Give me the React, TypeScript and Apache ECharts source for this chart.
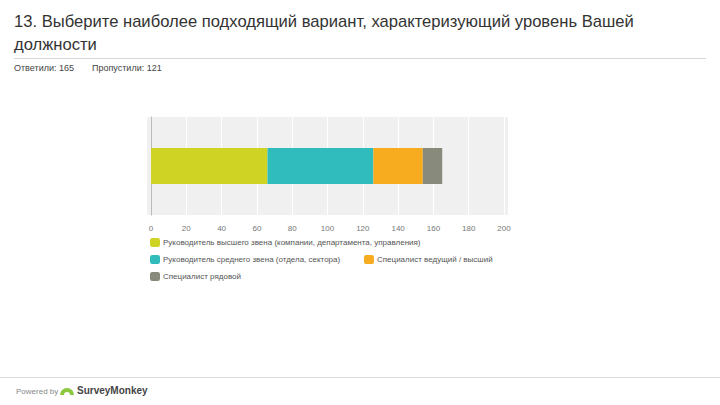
import React, { useEffect, useRef } from "react";
import * as echarts from "echarts";

const categories = ["Q13"];
const seriesNames = [
  "Руководитель высшего звена (компании, департамента, управления)",
  "Руководитель среднего звена (отдела, сектора)",
  "Специалист ведущий / высший",
  "Специалист рядовой",
];
const seriesValues = [66, 60, 28, 11];
const seriesColors = ["#cfd324", "#30bcbc", "#f7ab1f", "#888a7c"];
const xTicks = { min: 0, max: 200, interval: 20 };

const titleLine1 = "13. Выберите наиболее подходящий вариант, характеризующий уровень Вашей";
const titleLine2 = "должности";
const answered = "Ответили: 165";
const skipped = "Пропустили: 121";

export default function App() {
  const ref = useRef<HTMLDivElement>(null);
  useEffect(() => {
    if (!ref.current) return;
    const chart = echarts.init(ref.current, null, { renderer: "svg" });
    const font = "Liberation Sans, Arial, sans-serif";
    const legendPos = [
      { left: 150, top: 238 },
      { left: 150, top: 255 },
      { left: 364, top: 255 },
      { left: 150, top: 272 },
    ];
    chart.setOption({
      animation: false,
      backgroundColor: "#ffffff",
      textStyle: { fontFamily: font },
      grid: { left: 151, right: 216, top: 117, bottom: 190, containLabel: false },
      xAxis: {
        type: "value",
        min: xTicks.min,
        max: xTicks.max,
        interval: xTicks.interval,
        axisLine: { show: false },
        axisTick: { show: false },
        splitLine: { show: true, lineStyle: { color: "#ffffff", width: 1 } },
        axisLabel: { color: "#777", fontSize: 8, margin: 9, fontFamily: font },
      },
      yAxis: {
        type: "category",
        data: categories,
        axisLine: { show: true, lineStyle: { color: "#bbbbbb" } },
        axisTick: { show: false },
        axisLabel: { show: false },
      },
      legend: seriesNames.map((n, i) => ({
        data: [n],
        left: legendPos[i].left,
        top: legendPos[i].top,
        orient: "horizontal",
        icon: "roundRect",
        itemWidth: 10,
        itemHeight: 9,
        itemGap: 4,
        padding: 0,
        selectedMode: false,
        textStyle: { color: "#555", fontSize: 8, fontFamily: font, padding: [0, 0, 0, -2] },
      })),
      series: seriesNames.map((n, i) => ({
        name: n,
        type: "bar",
        stack: "total",
        barWidth: 36,
        data: [seriesValues[i]],
        itemStyle: { color: seriesColors[i] },
        emphasis: { disabled: true },
      })),
      graphic: [
        {
          type: "rect",
          z: -10,
          silent: true,
          shape: { x: 147, y: 117, width: 361, height: 98 },
          style: { fill: "#f0f0f0" },
        },
        {
          type: "text",
          left: 14,
          top: 13,
          style: { text: titleLine1, fill: "#333", font: "16.6px " + font },
        },
        {
          type: "text",
          left: 14,
          top: 36,
          style: { text: titleLine2, fill: "#333", font: "16.6px " + font },
        },
        {
          type: "line",
          shape: { x1: 14, y1: 58.5, x2: 706, y2: 58.5 },
          style: { stroke: "#d6d6d6", lineWidth: 1 },
        },
        {
          type: "text",
          left: 14,
          top: 63,
          style: { text: answered, fill: "#444", font: "9px " + font },
        },
        {
          type: "text",
          left: 92,
          top: 63,
          style: { text: skipped, fill: "#444", font: "9px " + font },
        },
        {
          type: "line",
          shape: { x1: 0, y1: 377.5, x2: 720, y2: 377.5 },
          style: { stroke: "#dddddd", lineWidth: 1 },
        },
        {
          type: "text",
          left: 16,
          top: 387,
          style: { text: "Powered by", fill: "#888", font: "8px " + font },
        },
        {
          type: "sector",
          shape: { cx: 67, cy: 395, r: 7, r0: 3, startAngle: Math.PI, endAngle: Math.PI * 2 },
          style: { fill: "#8dc63f" },
        },
        {
          type: "text",
          left: 77,
          top: 385,
          style: { text: "SurveyMonkey", fill: "#444", font: "bold 10px " + font },
        },
      ],
    });
    return () => chart.dispose();
  }, []);
  return <div ref={ref} style={{ width: 720, height: 405, position: "absolute", left: 0, top: 0 }} />;
}
